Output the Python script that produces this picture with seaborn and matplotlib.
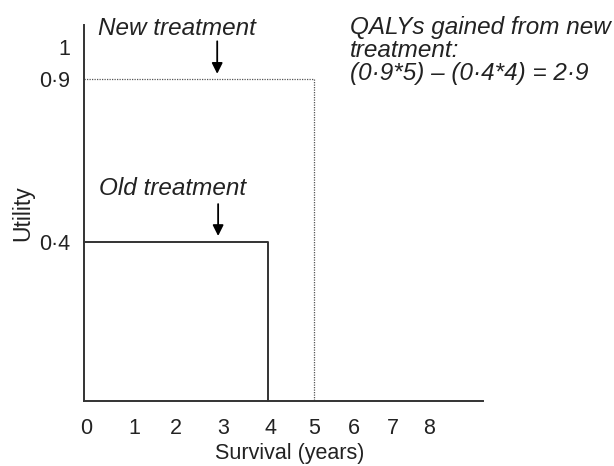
import matplotlib
matplotlib.use("Agg")
import matplotlib.pyplot as plt
import seaborn as sns
import pandas as pd

# Data
treatments = ["Old treatment", "New treatment"]
survival_years = [4, 5]
utility = [0.4, 0.9]
x_tick_labels = ["0", "1", "2", "3", "4", "5", "6", "7", "8"]
y_tick_values = [0.4, 0.9, 1.0]
y_tick_labels = ["0·4", "0·9", "1"]
qaly_text = "QALYs gained from new\ntreatment:\n(0·9*5) – (0·4*4) = 2·9"

sns.set_theme(style="white")
plt.rcParams["font.family"] = ["Liberation Sans", "DejaVu Sans"]

fig = plt.figure(figsize=(6.14, 4.66), dpi=100)
ax = fig.add_axes([0.136, 0.139, 0.651, 0.807])

ymin, ymax = -0.089, 1.066
xmin, xmax = 0, 8.67
ax.set_xlim(xmin, xmax)
ax.set_ylim(ymin, ymax)

styles = {"Old treatment": dict(color="#333333", lw=1.4, ls="-"),
          "New treatment": dict(color="#555555", lw=0.9, ls=(0, (1, 1)))}
for name, s, u in zip(treatments, survival_years, utility):
    df = pd.DataFrame({"x": [0, s, s], "y": [u, u, ymin]})
    sns.lineplot(data=df, x="x", y="y", sort=False, estimator=None, ax=ax,
                 color=styles[name]["color"], lw=styles[name]["lw"],
                 linestyle=styles[name]["ls"], clip_on=False)

# spines
for sp in ["top", "right"]:
    ax.spines[sp].set_visible(False)
for sp in ["left", "bottom"]:
    ax.spines[sp].set_color("#333333")
    ax.spines[sp].set_linewidth(1.4)

# ticks (visual positions as in the original drawing)
x_tick_pos = [0.05, 1.1, 2.0, 3.03, 4.05, 5.0, 5.87, 6.71, 7.5]
ax.set_xticks(x_tick_pos)
ax.set_xticklabels(x_tick_labels, fontsize=15.5, color="#222222")
ax.set_yticks(y_tick_values)
ax.set_yticklabels(y_tick_labels, fontsize=15.5, color="#222222")
ax.tick_params(axis="x", length=0, pad=12)
ax.tick_params(axis="y", length=0, pad=9.5)

ax.set_xlabel("Survival (years)", fontsize=15.5, color="#222222")
ax.set_ylabel("Utility", fontsize=16.5, color="#222222")
ax.xaxis.set_label_coords(0.517, -0.112)
ax.yaxis.set_label_coords(-0.124, 0.5)

# annotations
ann_style = dict(fontsize=17.5, style="italic", color="#222222")
ax.text(0.31, 1.055, "New treatment", va="center", ha="left", clip_on=False, **ann_style)
ax.text(0.34, 0.563, "Old treatment", va="center", ha="left", **ann_style)
ax.text(5.78, 1.095, qaly_text, va="top", ha="left", clip_on=False,
        linespacing=1.0, **ann_style)

arrow = dict(arrowstyle="-|>", color="black", lw=1.3, mutation_scale=16)
ax.annotate("", xy=(2.9, utility[1] + 0.008), xytext=(2.9, 1.025),
            arrowprops=arrow, annotation_clip=False)
ax.annotate("", xy=(2.92, utility[0] + 0.01), xytext=(2.92, 0.525),
            arrowprops=arrow)

fig.savefig("out.png", dpi=100)
